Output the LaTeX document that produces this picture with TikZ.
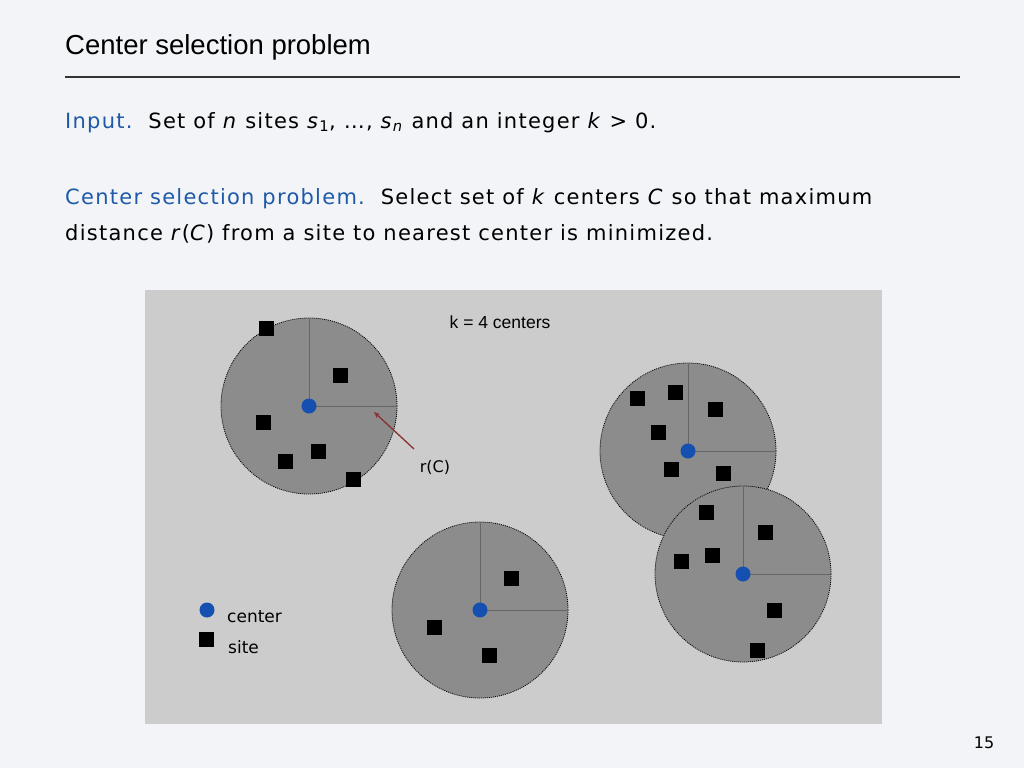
\documentclass[tikz,border=0pt]{standalone}
\usepackage{fontspec}
\setmainfont{DejaVu Sans}
\newfontfamily\bodyfont[LetterSpace=6]{DejaVu Sans}
\newfontfamily\helv{Liberation Sans}
\usetikzlibrary{arrows.meta}
\definecolor{bg}{HTML}{F2F4F7}
\definecolor{panel}{HTML}{CCCCCC}
\definecolor{diskgray}{HTML}{8C8C8C}
\definecolor{ctrblue}{HTML}{1550B0}
\definecolor{hdblue}{HTML}{1E5AA8}
\definecolor{arrred}{HTML}{8B3030}
\definecolor{radgray}{HTML}{666666}
\definecolor{rulegray}{HTML}{333333}
\tikzset{
  site/.style={rectangle, fill=black, minimum size=15pt, inner sep=0pt},
  ctrdot/.style={circle, fill=ctrblue, minimum size=15pt, inner sep=0pt},
  diskst/.style={fill=diskgray, draw=black, line width=0.8pt, dash pattern=on 1pt off 1pt},
  radline/.style={draw=radgray, line width=1pt},
  bodytext/.style={anchor=base west, inner sep=0pt, font=\bodyfont\fontsize{21}{25}\selectfont},
}
\begin{document}
\begin{tikzpicture}[x=1pt,y=-1pt]
\fill[bg] (0,0) rectangle (1024,768);
\useasboundingbox (0,0) rectangle (1024,768);
% title
\node[anchor=base west, inner sep=0pt, font=\helv\fontsize{27.5}{32}\selectfont] (title) at (65,55) {Center selection problem};
\draw[rulegray, line width=1.5pt] (65,77) -- (960,77);
% body
\node[bodytext] (input) at (65,128) {\textcolor{hdblue}{Input.}\ \ Set of \textit{n} sites \textit{s}\textsubscript{1}, …, \textit{s}\textsubscript{\textit{n}} and an integer \textit{k} > 0.};
\node[bodytext] (csp) at (65,204) {\textcolor{hdblue}{Center selection problem.}\ \ Select set of \textit{k} centers \textit{C} so that maximum};
\node[bodytext] (csp2) at (65,240) {distance \textit{r}(\textit{C}) from a site to nearest center is minimized.};
% panel
\fill[panel] (145,290) rectangle (882,724);
% disks
\draw[diskst] (309,406) circle[radius=88];
\draw[diskst] (688,451) circle[radius=88];
\draw[diskst] (743,574) circle[radius=88];
\draw[diskst] (480,610) circle[radius=88];
% radius lines
\draw[radline] (309,406) -- (309,318) (309,406) -- (397,406);
\draw[radline] (688,451) -- (688,363) (688,451) -- (776,451);
\draw[radline] (743,574) -- (743,486) (743,574) -- (831,574);
\draw[radline] (480,610) -- (480,522) (480,610) -- (568,610);
% centers
\node[ctrdot] (c1) at (309,406) {};
\node[ctrdot] (c2) at (688,451) {};
\node[ctrdot] (c3) at (743,574) {};
\node[ctrdot] (c4) at (480,610) {};
% sites cluster 1
\node[site] (a1) at (266,328) {};
\node[site] (a2) at (340,375) {};
\node[site] (a3) at (263,422) {};
\node[site] (a4) at (318,451) {};
\node[site] (a5) at (285,461) {};
\node[site] (a6) at (353,479) {};
% cluster 2
\node[site] (b1) at (637,398) {};
\node[site] (b2) at (675,392) {};
\node[site] (b3) at (715,409) {};
\node[site] (b4) at (658,432) {};
\node[site] (b5) at (671,469) {};
\node[site] (b6) at (723,473) {};
% cluster 3
\node[site] (d1) at (706,512) {};
\node[site] (d2) at (765,532) {};
\node[site] (d3) at (681,561) {};
\node[site] (d4) at (712,555) {};
\node[site] (d5) at (774,610) {};
\node[site] (d6) at (757,650) {};
% cluster 4
\node[site] (e1) at (511,578) {};
\node[site] (e2) at (434,627) {};
\node[site] (e3) at (489,655) {};
% labels
\node[inner sep=0pt, font=\helv\fontsize{17.5}{20}\selectfont] (klabel) at (500,322) {k = 4 centers};
\node[inner sep=0pt, font=\fontsize{16}{18}\selectfont] (rlabel) at (435,467) {r(C)};
\coordinate (rtail) at (414,449);
\coordinate (rhead) at (374,412);
\draw[arrred, line width=1.3pt, -{Stealth[length=6pt,width=5pt]}] (rtail) -- (rhead);
% legend
\node[ctrdot] (lc) at (207,610) {};
\node[site] (ls) at (206,639) {};
\node[anchor=west, inner sep=0pt, font=\fontsize{17}{20}\selectfont] (lctext) at (227,617) {center};
\node[anchor=west, inner sep=0pt, font=\fontsize{17}{20}\selectfont] (lstext) at (228,647) {site};
% page number
\node[inner sep=0pt, font=\fontsize{16}{18}\selectfont] (pnum) at (984,743) {15};
\end{tikzpicture}
\end{document}
